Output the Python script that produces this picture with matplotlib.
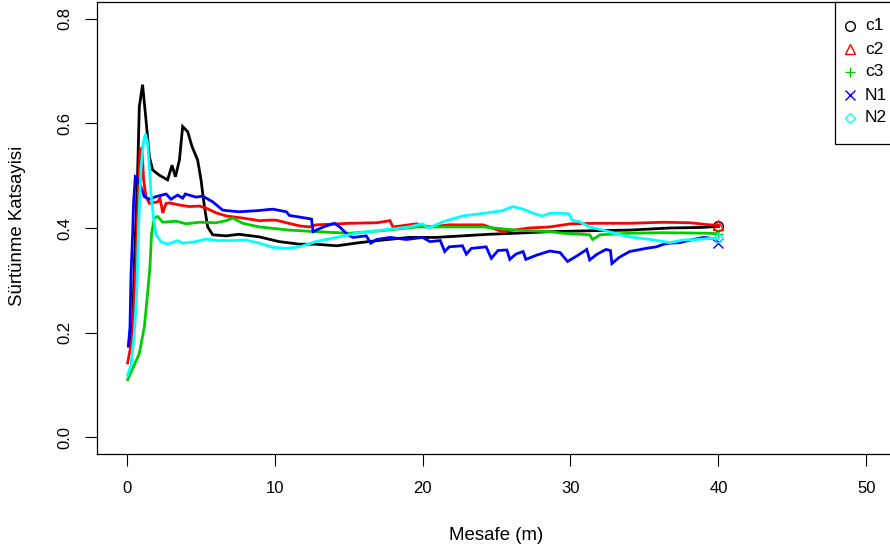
import matplotlib
matplotlib.use("Agg")
import matplotlib.pyplot as plt
from matplotlib.patches import Rectangle
from matplotlib.lines import Line2D

plt.rcParams['font.family'] = ['Liberation Sans', 'DejaVu Sans']
plt.rcParams['font.size'] = 12

# friction coefficient vs. sliding distance
c1_x = [0.14, 0.41, 0.52, 0.74, 0.86, 1.08, 1.31, 1.54, 1.76, 2.21, 2.77, 3.07, 3.3, 3.57, 3.79, 4.13,
        4.42, 4.8, 5.03, 5.26, 5.48, 5.82, 6.73, 7.6, 8.98, 10.3, 11.7, 12.8, 14.2, 15.74, 17.3, 19.1,
        20.9, 22.7, 24.5, 26.3, 28.6, 31.8, 34.0, 36.7, 38.75, 40.0]
c1_y = [0.176, 0.218, 0.326, 0.498, 0.632, 0.674, 0.607, 0.536, 0.511, 0.501, 0.492, 0.52, 0.498, 0.53,
        0.594, 0.584, 0.556, 0.53, 0.492, 0.441, 0.402, 0.387, 0.385, 0.388, 0.383, 0.374, 0.369, 0.369,
        0.366, 0.372, 0.377, 0.382, 0.382, 0.385, 0.388, 0.39, 0.393, 0.395, 0.396, 0.4, 0.401, 0.403]

c2_x = [0.07, 0.23, 0.41, 0.64, 0.81, 0.91, 1.04, 1.15, 1.31, 1.54, 2.1, 2.26, 2.44, 2.67, 2.89, 3.57,
        4.24, 4.92, 5.37, 6.05, 6.73, 7.85, 8.98, 9.65, 10.1, 10.8, 11.7, 12.36, 12.8, 15.07, 16.9, 17.8,
        18.0, 19.6, 20.5, 21.8, 24.1, 25.4, 27.2, 28.6, 30.0, 31.8, 34.0, 36.3, 38.1, 39.4, 40.0]
c2_y = [0.142, 0.166, 0.198, 0.339, 0.479, 0.549, 0.553, 0.492, 0.46, 0.447, 0.45, 0.457, 0.429, 0.447,
        0.448, 0.444, 0.441, 0.442, 0.438, 0.429, 0.423, 0.419, 0.414, 0.415, 0.415, 0.41, 0.404, 0.402,
        0.406, 0.409, 0.41, 0.414, 0.402, 0.408, 0.402, 0.406, 0.406, 0.393, 0.4, 0.402, 0.408, 0.409,
        0.409, 0.411, 0.41, 0.406, 0.405]

c3_x = [0.07, 0.41, 0.86, 1.2, 1.42, 1.58, 1.69, 1.87, 2.1, 2.44, 3.34, 4.02, 4.92, 6.05, 6.73, 7.17,
        7.85, 8.98, 9.65, 11.0, 12.8, 15.07, 17.3, 19.6, 21.8, 24.1, 26.3, 28.6, 29.5, 31.3, 31.5, 32.0,
        34.0, 36.3, 39.4, 40.0]
c3_y = [0.11, 0.131, 0.16, 0.211, 0.275, 0.326, 0.39, 0.419, 0.422, 0.411, 0.413, 0.408, 0.411, 0.41,
        0.414, 0.419, 0.409, 0.402, 0.4, 0.396, 0.393, 0.39, 0.395, 0.402, 0.402, 0.402, 0.396, 0.393,
        0.39, 0.387, 0.378, 0.387, 0.39, 0.391, 0.39, 0.389]

n1_x = [0.12, 0.23, 0.3, 0.41, 0.47, 0.59, 0.74, 0.97, 1.2, 1.54, 1.99, 2.67, 3.0, 3.45, 3.79, 3.97,
        4.7, 5.14, 5.82, 6.5, 7.6, 8.76, 9.88, 10.8, 11.0, 12.1, 12.5, 12.6, 13.3, 14.05, 14.4, 14.95,
        15.3, 16.2, 16.5, 16.9, 17.8, 18.9, 20.0, 20.5, 21.2, 21.5, 21.8, 22.7, 22.96, 23.3, 24.3, 24.65,
        25.1, 25.7, 25.9, 26.3, 26.8, 26.98, 27.7, 28.6, 29.3, 29.8, 30.4, 31.1, 31.3, 31.8, 32.4, 32.7,
        32.8, 33.3, 34.0, 35.1, 35.8, 36.3, 36.7, 37.4, 38.1, 39.0, 39.6, 40.0]
n1_y = [0.174, 0.211, 0.313, 0.39, 0.447, 0.498, 0.495, 0.479, 0.46, 0.455, 0.46, 0.465, 0.455, 0.463,
        0.457, 0.465, 0.459, 0.461, 0.45, 0.434, 0.431, 0.433, 0.436, 0.431, 0.424, 0.419, 0.417, 0.393,
        0.402, 0.409, 0.402, 0.387, 0.382, 0.385, 0.371, 0.378, 0.382, 0.378, 0.382, 0.374, 0.376, 0.355,
        0.364, 0.366, 0.35, 0.361, 0.364, 0.342, 0.357, 0.358, 0.34, 0.35, 0.355, 0.34, 0.348, 0.356,
        0.353, 0.336, 0.346, 0.359, 0.339, 0.35, 0.359, 0.357, 0.332, 0.344, 0.355, 0.361, 0.364, 0.369,
        0.371, 0.372, 0.377, 0.382, 0.38, 0.372]

n2_x = [0.07, 0.3, 0.52, 0.68, 0.81, 0.97, 1.13, 1.27, 1.42, 1.54, 1.65, 1.81, 1.99, 2.33, 2.77, 3.45,
        3.79, 4.7, 5.37, 6.05, 7.17, 8.08, 8.98, 9.88, 10.8, 11.7, 12.8, 14.2, 15.5, 17.3, 19.1, 20.0,
        20.4, 21.4, 22.7, 24.1, 25.4, 26.1, 26.8, 27.5, 28.1, 28.6, 29.5, 29.9, 30.1, 30.6, 31.3, 32.2,
        33.1, 34.0, 35.4, 36.3, 36.7, 37.6, 38.5, 39.4, 40.0]
n2_y = [0.119, 0.138, 0.198, 0.275, 0.402, 0.511, 0.562, 0.58, 0.562, 0.517, 0.466, 0.422, 0.387, 0.374,
        0.369, 0.376, 0.371, 0.374, 0.379, 0.376, 0.376, 0.377, 0.371, 0.363, 0.361, 0.364, 0.374, 0.382,
        0.39, 0.396, 0.402, 0.408, 0.4, 0.412, 0.423, 0.428, 0.433, 0.441, 0.436, 0.428, 0.423, 0.428,
        0.428, 0.427, 0.415, 0.412, 0.402, 0.396, 0.389, 0.383, 0.378, 0.374, 0.372, 0.377, 0.378, 0.38,
        0.38]

names = ["c1", "c2", "c3", "N1", "N2"]
colors = ["black", "#FF0000", "#00CD00", "#0000FF", "#00FFFF"]
markers = ["o", "^", "+", "x", "D"]
series = [(c1_x, c1_y), (c2_x, c2_y), (c3_x, c3_y), (n1_x, n1_y), (n2_x, n2_y)]

W, H = 890, 554
fig = plt.figure(figsize=(W / 100, H / 100), dpi=100)
# plot box: left 97px, right ~896px (off canvas), top 2px, bottom 454px
ax = fig.add_axes([97 / W, (H - 454) / H, (896 - 97) / W, (454 - 2) / H])

for (x, y), c, m in zip(series, colors, markers):
    ax.plot(x, y, color=c, lw=2.0, solid_joinstyle="miter")
    ms = 5.5 if m == "D" else 7
    ax.plot(x[-1], y[-1], linestyle="none", marker=m, color=c, markerfacecolor="none",
            markersize=ms, markeredgewidth=1.0)

ax.set_xlim(-2, 52)
ax.set_ylim(-0.032, 0.832)
ax.set_xticks([0, 10, 20, 30, 40, 50])
ax.set_yticks([0.0, 0.2, 0.4, 0.6, 0.8])
ax.set_yticklabels(["0.0", "0.2", "0.4", "0.6", "0.8"])
for s in ax.spines.values():
    s.set_linewidth(0.9)
ax.tick_params(length=8.5, width=0.8, labelsize=12)
ax.tick_params(axis="x", pad=11)
ax.tick_params(axis="y", pad=9, labelrotation=90)
for lab in ax.get_yticklabels():
    lab.set_va("center")

fig.text(496.5 / W, 1 - 535 / H, "Mesafe (m)", ha="center", va="center", fontsize=13.4)
fig.text(18 / W, 1 - 226 / H, "Sürtünme Katsayisi", ha="center", va="center",
         rotation=90, fontsize=13.4)

# legend box at top right, running off the canvas like the original
fig.patches.append(Rectangle((835 / W, 1 - 144 / H), 80 / W, 142 / H, transform=fig.transFigure,
                             facecolor="white", edgecolor="black", linewidth=0.9, zorder=5))
for i, (n, c, m) in enumerate(zip(names, colors, markers)):
    yy = 1 - (26 + 23 * i) / H
    ms = 5.5 if m == "D" else 7
    fig.lines.append(Line2D([850 / W], [yy], transform=fig.transFigure, linestyle="none",
                            marker=m, color=c, markerfacecolor="none", markersize=ms,
                            markeredgewidth=1.0, zorder=6))
    fig.text(865 / W, yy, n, ha="left", va="center", fontsize=12.5, zorder=6)

fig.savefig("out.png", dpi=100)
